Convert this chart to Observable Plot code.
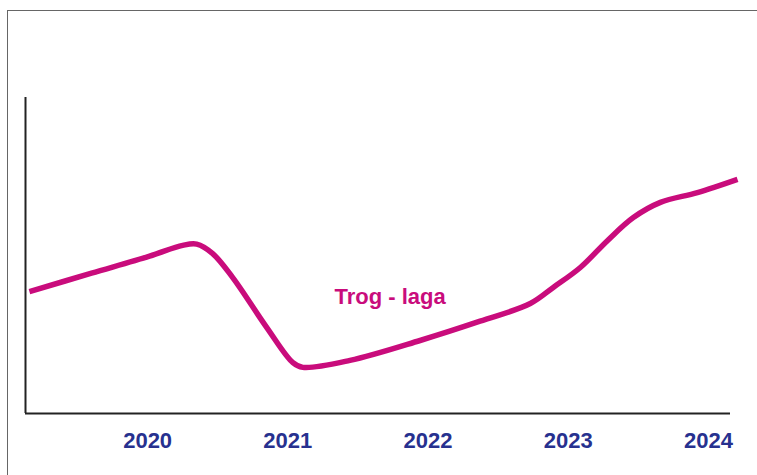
<!DOCTYPE html>
<html>
<head>
<meta charset="utf-8">
<script src="https://cdn.jsdelivr.net/npm/d3@7"></script>
<script src="https://cdn.jsdelivr.net/npm/@observablehq/plot@0.6"></script>
<style>
  html, body { margin: 0; padding: 0; background: #fff; overflow: hidden; }
  #wrap { position: relative; width: 757px; height: 475px; }
  #frame { position: absolute; left: 7px; top: 10px; width: 800px; height: 520px; border: 1.5px solid #666; box-sizing: border-box; }
  #chart { position: absolute; left: 0; top: 0; }
</style>
</head>
<body>
<div id="wrap"><div id="frame"></div><div id="chart"></div></div>
<script>
const years = [2020, 2021, 2022, 2023, 2024];
const pathYears = [2019.157, 2019.6, 2020.014, 2020.25, 2020.35, 2020.464, 2020.607, 2020.85, 2021.036, 2021.107, 2021.443, 2021.943, 2022.371, 2022.729, 2022.893, 2023.086, 2023.279, 2023.464, 2023.657, 2023.921, 2024.207];
const pathValues = [38.6, 44.4, 49.8, 53.2, 53.6, 50.6, 43.0, 27.2, 16.1, 14.6, 16.8, 23.1, 29.2, 34.8, 39.9, 46.2, 54.7, 62.0, 66.8, 69.9, 74.1];
const labelText = ["Trog - laga"];
const labelX = [2021.729];
const labelY = [37.0];

const series = pathYears.map((x, i) => ({x, y: pathValues[i]}));
const labels = labelText.map((t, i) => ({t, x: labelX[i], y: labelY[i]}));

const xMin = 2019.129, xMax = 2024.157;
const magenta = "#c90c7c";
const navy = "#27318f";
const font = "Liberation Sans, Arial, sans-serif";

const chart = Plot.plot({
  width: 757,
  height: 475,
  marginLeft: 25,
  marginRight: 27,
  marginTop: 97,
  marginBottom: 62,
  style: {background: "transparent", fontFamily: font},
  x: {domain: [xMin, xMax], axis: null},
  y: {domain: [0, 100], axis: null},
  marks: [
    Plot.ruleY([0], {x1: xMin, x2: xMax, stroke: "#222", strokeWidth: 2}),
    Plot.ruleX([xMin], {y1: 0, y2: 100, stroke: "#222", strokeWidth: 2}),
    Plot.line(series, {x: "x", y: "y", curve: "catmull-rom", stroke: magenta, strokeWidth: 5.5, strokeLinecap: "butt", strokeLinejoin: "round"}),
    Plot.text(years, {x: d => d, y: 0, dy: 27, text: d => String(d), fill: navy, fontSize: 22, fontWeight: "bold", textAnchor: "middle", lineAnchor: "middle"}),
    Plot.text(labels, {x: "x", y: "y", text: "t", fill: magenta, fontSize: 22, fontWeight: "bold", textAnchor: "middle", lineAnchor: "middle"})
  ]
});
document.getElementById("chart").appendChild(chart);
</script>
</body>
</html>
